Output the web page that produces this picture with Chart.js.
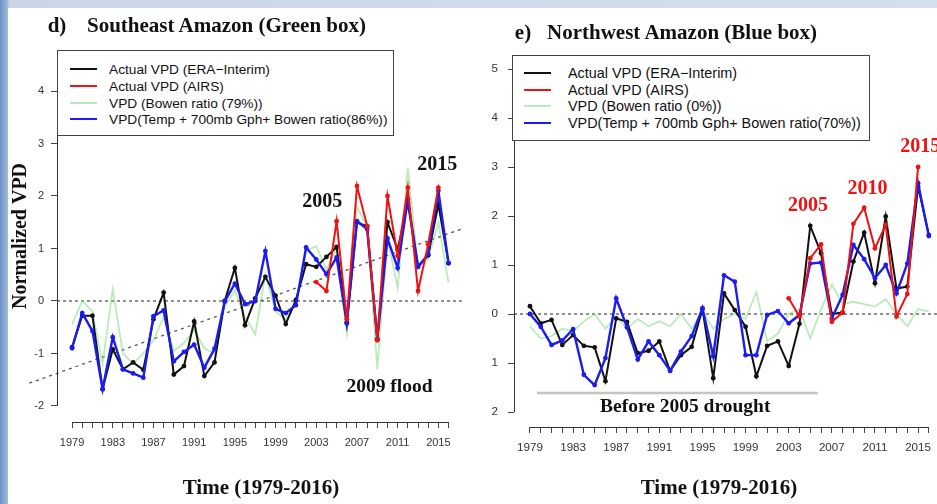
<!DOCTYPE html>
<html>
<head>
<meta charset="utf-8">
<title>Normalized VPD - Southeast and Northwest Amazon</title>
<script src="https://cdn.jsdelivr.net/npm/chart.js@4.4.1/dist/chart.umd.min.js"></script>
<style>
  html, body { margin: 0; padding: 0; }
  body {
    width: 937px; height: 504px; overflow: hidden; position: relative;
    background: linear-gradient(to right, #6b93c8 0px, #a3bcdb 8px, #c9d6e7 9px, #d4dfec 100%);
    font-family: "Liberation Sans", Arial, sans-serif;
  }
  #sheet { position: absolute; left: 8px; top: 8px; width: 929px; height: 496px; background: #fff; }
  canvas { position: absolute; top: 0; }
  .ttl { position: absolute; font: bold 21px "Liberation Serif", "Times New Roman", serif; color: #111; white-space: nowrap; transform: translateY(-50%); }
  .ctr { transform: translate(-50%, -50%); }
  .legend { position: absolute; border: 1px solid #444; background: #fff; box-sizing: border-box; }
  .legend div { position: absolute; white-space: nowrap; color: #111; transform: translateY(-50%); }
  .legend i { position: absolute; height: 0; border-top: 2px solid; transform: translateY(-1px); }
</style>
</head>
<body>
<div id="sheet"></div>
<canvas id="se" width="480" height="504" style="left:0"></canvas>
<canvas id="nw" width="480" height="504" style="left:480px"></canvas>

<div class="ttl ctr" style="left:57px;top:25px">d)</div>
<div class="ttl" style="left:87px;top:25px">Southeast Amazon (Green box)</div>
<div class="ttl ctr" style="left:523px;top:32px">e)</div>
<div class="ttl" style="left:547px;top:32px">Northwest Amazon (Blue box)</div>
<div class="ttl ctr" style="left:261px;top:487px">Time (1979-2016)</div>
<div class="ttl ctr" style="left:719px;top:487px">Time (1979-2016)</div>

<div id="seLegend" class="legend" style="left:57px;top:50px;width:337px;height:86px;font-size:13.7px"></div>
<div id="nwLegend" class="legend" style="left:512px;top:55px;width:358px;height:86px;font-size:14.4px"></div>

<script>
// ---------------------------------------------
// data (normalized VPD)
// ---------------------------------------------
const years = [1979,1980,1981,1982,1983,1984,1985,1986,1987,1988,1989,1990,1991,1992,1993,1994,1995,1996,1997,
               1998,1999,2000,2001,2002,2003,2004,2005,2006,2007,2008,2009,2010,2011,2012,2013,2014,2015,2016];

// d) Southeast Amazon
const seEra   = [-0.88,-0.28,-0.28,-1.68,-0.92,-1.30,-1.17,-1.31,-0.35,0.16,-1.40,-1.24,-0.39,-1.43,-1.17,0.00,0.63,-0.46,0.05,
                 0.46,0.10,-0.44,0.02,0.70,0.65,0.84,1.03,-0.41,1.50,1.42,-0.73,1.50,0.98,1.87,0.65,0.87,1.84,0.72];
const seAirs  = [null,null,null,null,null,null,null,null,null,null,null,null,null,null,null,null,null,null,null,
                 null,null,null,null,null,0.36,0.19,1.52,-0.35,2.19,1.43,-0.75,2.00,0.86,2.16,0.19,1.08,2.16,null];
const seBowen = [-0.45,0.00,-0.20,-1.20,0.22,-1.00,-1.20,-1.00,-0.75,-0.30,-0.95,-0.80,-0.55,-0.90,-1.00,-0.10,0.20,-0.30,-0.63,
                 0.50,-0.20,-0.35,0.00,0.95,1.05,0.60,1.00,-0.60,1.80,1.40,-1.30,1.20,0.25,2.54,0.70,0.80,1.50,0.35];
const seFull  = [-0.90,-0.23,-0.57,-1.68,-0.69,-1.30,-1.38,-1.46,-0.29,-0.18,-1.15,-0.97,-0.83,-1.27,-0.91,-0.01,0.33,-0.06,0.00,
                 0.95,-0.15,-0.23,-0.08,1.02,0.79,0.51,0.83,-0.43,1.52,1.37,-0.73,1.19,0.63,1.94,0.65,0.89,2.10,0.72];
const seLabels = ['Actual VPD (ERA\u2212Interim)', 'Actual VPD (AIRS)', 'VPD (Bowen ratio (79%))',
                  'VPD(Temp + 700mb Gph+ Bowen ratio(86%))'];
const seTicks = [-2, -1, 0, 1, 2, 3, 4];

// e) Northwest Amazon
const nwEra   = [0.16,-0.19,-0.12,-0.63,-0.43,-0.65,-0.68,-1.37,-0.09,-0.16,-0.80,-0.75,-0.56,-1.16,-0.84,-0.67,0.10,-1.31,0.42,
                 0.08,-0.26,-1.27,-0.65,-0.56,-1.06,-0.20,1.80,1.24,0.00,0.03,1.07,1.66,0.63,1.99,0.52,0.56,2.60,1.61];
const nwAirs  = [null,null,null,null,null,null,null,null,null,null,null,null,null,null,null,null,null,null,null,
                 null,null,null,null,null,0.32,-0.05,1.14,1.42,-0.16,0.03,1.84,2.17,1.34,1.82,-0.05,0.41,3.00,null];
const nwBowen = [-0.25,-0.50,-0.45,-0.30,-0.35,-0.15,0.00,-0.30,-0.05,-0.30,-0.10,-0.25,-0.15,-0.25,0.00,-0.30,0.05,-0.30,-0.10,
                 0.00,-0.10,0.45,-0.55,-0.40,0.00,0.10,-0.50,0.10,0.60,0.20,0.25,0.20,0.15,0.30,0.00,-0.25,0.10,0.05];
const nwFull  = [0.00,-0.26,-0.63,-0.54,-0.31,-1.24,-1.45,-0.90,0.32,-0.27,-0.93,-0.56,-0.84,-1.16,-0.77,-0.45,0.12,-0.86,0.79,
                 0.66,-0.84,-0.84,-0.02,0.06,-0.19,-0.02,1.03,1.05,-0.09,0.39,1.41,1.12,0.73,1.00,0.42,1.03,2.67,1.59];
const nwLabels = ['Actual VPD (ERA\u2212Interim)', 'Actual VPD (AIRS)', 'VPD (Bowen ratio (0%))',
                  'VPD(Temp + 700mb Gph+ Bowen ratio(70%))'];
const nwTicks = [-2, -1, 0, 1, 2, 3, 4, 5];

const X_MIN = 1977.52, X_MAX = 2017.48;   // R-style 4% padding on 1979-2016
const SERIF = '"Liberation Serif", "Times New Roman", serif';
const COLORS = ['#111111', '#f01212', 'rgba(130,218,130,0.55)', '#1b1bf2'];

// least squares line through a series (the dotted trend in panel d)
function fitLine(vals) {
  const n = vals.length;
  const mt = years.reduce((a, b) => a + b, 0) / n;
  const mv = vals.reduce((a, b) => a + b, 0) / n;
  let sxy = 0, sxx = 0;
  years.forEach((t, i) => { sxy += (t - mt) * (vals[i] - mv); sxx += (t - mt) * (t - mt); });
  const b = sxy / sxx;
  return t => mv + b * (t - mt);
}

const pts = arr => years.map((t, i) => ({ x: t, y: arr[i] }));

function series(label, arr, color, width, order, dots) {
  return {
    label, data: pts(arr), borderColor: color, backgroundColor: color,
    borderWidth: width, pointRadius: dots ? 2.4 : 0, pointBorderWidth: 0,
    pointBackgroundColor: color, tension: 0, spanGaps: false, order
  };
}

// R-like axes: spine only between first/last tick, x line only over the years
const rAxes = {
  id: 'rAxes',
  afterDraw(chart) {
    const { ctx, chartArea, scales: { x, y } } = chart;
    const tv = y.ticks.map(t => t.value);
    ctx.save();
    ctx.strokeStyle = '#333';
    ctx.lineWidth = 1;
    ctx.beginPath();
    const sx = Math.round(chartArea.left) + 0.5;
    ctx.moveTo(sx, y.getPixelForValue(Math.min(...tv)));
    ctx.lineTo(sx, y.getPixelForValue(Math.max(...tv)));
    const by = Math.round(chartArea.bottom) + 0.5;
    ctx.moveTo(x.getPixelForValue(years[0]), by);
    ctx.lineTo(x.getPixelForValue(years[years.length - 1]), by);
    ctx.stroke();
    ctx.restore();
  }
};

// text notes placed in data coordinates
const notes = {
  id: 'notes',
  afterDatasetsDraw(chart, args, opts) {
    const { ctx, scales: { x, y } } = chart;
    (opts.items || []).forEach(n => {
      ctx.save();
      ctx.font = `bold ${n.size}px ${SERIF}`;
      ctx.fillStyle = n.color;
      ctx.textAlign = 'center';
      ctx.textBaseline = 'middle';
      ctx.fillText(n.text, x.getPixelForValue(n.x), y.getPixelForValue(n.y));
      ctx.restore();
    });
  }
};

function panel(id, o) {
  const datasets = [
    series(o.labels[1], o.airs, COLORS[1], 2, 1, true),
    series(o.labels[3], o.full, COLORS[3], 2.4, 2, true),
    series(o.labels[0], o.era, COLORS[0], 2, 3, true),
    series(o.labels[2], o.bowen, COLORS[2], 1.8, 4, false),
    { label: 'zero', data: [{ x: X_MIN, y: 0 }, { x: X_MAX, y: 0 }], borderColor: '#222',
      borderWidth: 1, borderDash: [3, 3], pointRadius: 0, order: 6 }
  ].concat(o.extra || []);

  return new Chart(document.getElementById(id), {
    type: 'line',
    data: { datasets },
    options: {
      responsive: false,
      animation: false,
      events: [],
      layout: { padding: { left: 0, top: o.top, right: o.right, bottom: 0 } },
      plugins: {
        legend: { display: false },
        tooltip: { enabled: false },
        notes: { items: o.notes }
      },
      scales: {
        x: {
          type: 'linear', min: X_MIN, max: X_MAX,
          afterFit: s => { s.height = o.xh; },
          afterBuildTicks: s => { s.ticks = years.map(v => ({ value: v })); },
          border: { display: false },
          grid: { drawOnChartArea: false, drawTicks: true, tickLength: 6, color: '#444' },
          ticks: {
            autoSkip: false, maxRotation: 0, padding: 8, color: '#333',
            font: { family: '"Liberation Sans", Arial, sans-serif', size: o.fs },
            callback: v => ((v - years[0]) % 4 === 0 ? String(v) : '')
          }
        },
        y: {
          min: o.ymin, max: o.ymax,
          afterFit: s => { s.width = o.yw; },
          afterBuildTicks: s => { s.ticks = o.ticks.map(v => ({ value: v })); },
          border: { display: false },
          grid: { drawOnChartArea: false, drawTicks: true, tickLength: 6, color: '#444' },
          ticks: {
            padding: o.ypad, color: '#333',
            font: { family: '"Liberation Sans", Arial, sans-serif', size: o.fs },
            callback: o.fmt || (v => String(v))
          },
          title: o.ytitle ? {
            display: true, text: o.ytitle, color: '#111',
            font: { family: SERIF, size: 20, weight: 'bold' }, padding: { top: 9, bottom: 0 }
          } : { display: false }
        }
      }
    },
    plugins: [rAxes, notes]
  });
}

function buildLegend(elId, labels, rows, lineX, textX) {
  const box = document.getElementById(elId);
  labels.forEach((lab, i) => {
    const ln = document.createElement('i');
    ln.style.left = lineX[0] + 'px';
    ln.style.width = (lineX[1] - lineX[0]) + 'px';
    ln.style.top = rows[i] + 'px';
    ln.style.borderTopColor = COLORS[i];
    box.appendChild(ln);
    const tx = document.createElement('div');
    tx.style.left = textX + 'px';
    tx.style.top = rows[i] + 'px';
    tx.textContent = lab;
    box.appendChild(tx);
  });
}

const seTrend = fitLine(seEra);

panel('se', {
  era: seEra, airs: seAirs, bowen: seBowen, full: seFull, labels: seLabels, ticks: seTicks,
  top: 50, right: 16.4, xh: 82, yw: 57, ymin: -2.305, ymax: 4.781, ypad: 7, fs: 11,
  ytitle: 'Normalized VPD',
  extra: [{
    label: 'trend', data: [1974.8, X_MAX].map(t => ({ x: t, y: seTrend(t) })),
    borderColor: '#555', borderWidth: 1.3, borderDash: [3, 4], pointRadius: 0, order: 7, clip: false
  }],
  notes: [
    { text: '2005', x: 2003.6, y: 1.88, color: '#111', size: 20 },
    { text: '2015', x: 2014.9, y: 2.59, color: '#111', size: 20 },
    { text: '2009 flood', x: 2010.2, y: -1.63, color: '#111', size: 19.5 }
  ]
});

panel('nw', {
  era: nwEra, airs: nwAirs, bowen: nwBowen, full: nwFull, labels: nwLabels, ticks: nwTicks,
  top: 55, right: 15.2, xh: 77, yw: 34, ymin: -2.306, ymax: 5.286, ypad: 10, fs: 11.6,
  fmt: v => String(Math.abs(v)),   // the source prints the negative ticks without a sign
  extra: [{
    label: 'before 2005', data: [{ x: 1979.65, y: -1.61 }, { x: 2005.7, y: -1.61 }],
    borderColor: '#c4c4c4', borderWidth: 2.5, pointRadius: 0, order: 8
  }],
  notes: [
    { text: '2005', x: 2004.8, y: 2.20, color: '#ee1111', size: 20 },
    { text: '2010', x: 2010.3, y: 2.56, color: '#ee1111', size: 20 },
    { text: '2015', x: 2015.2, y: 3.41, color: '#ee1111', size: 20 },
    { text: 'Before 2005 drought', x: 1993.4, y: -1.89, color: '#111', size: 19.5 }
  ]
});

buildLegend('seLegend', seLabels, [18, 35, 51.5, 68], [12, 39], 51);
buildLegend('nwLegend', nwLabels, [17, 33.5, 50, 67], [11, 38], 55);
</script>
</body>
</html>
